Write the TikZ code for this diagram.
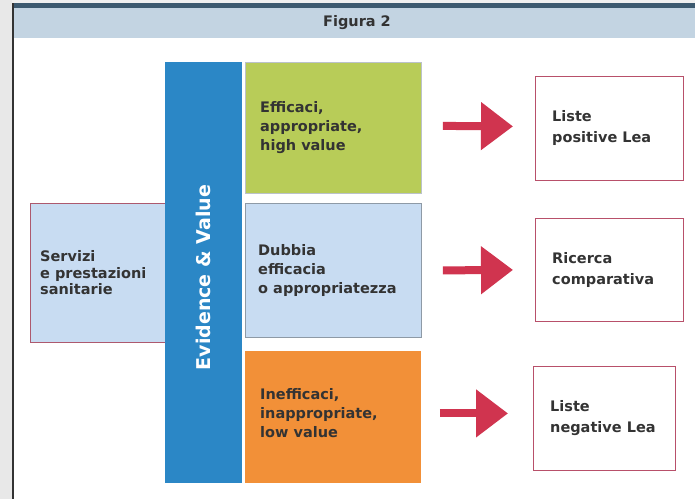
\documentclass[tikz,border=0pt]{standalone}
\usepackage{fontspec}
\setmainfont{DejaVu Sans}
\usetikzlibrary{arrows.meta}
\definecolor{barblue}{HTML}{2B87C6}
\definecolor{boxgreen}{HTML}{B8CC58}
\definecolor{boxlight}{HTML}{C8DCF2}
\definecolor{boxorange}{HTML}{F29038}
\definecolor{pinkline}{HTML}{B8506A}
\definecolor{headfill}{HTML}{C3D4E2}
\definecolor{headline}{HTML}{3D5A70}
\definecolor{arrowred}{HTML}{D0344F}
\definecolor{txt}{HTML}{333333}
\definecolor{grayline}{HTML}{8E9AA6}
\begin{document}
\begin{tikzpicture}[x=1pt,y=-1pt,
  box/.style={draw, line width=0.8pt, minimum width=#1, inner sep=0pt},
  lbl/.style={anchor=west, align=left, font=\bfseries\fontsize{14.5}{19}\selectfont, text=txt, inner sep=0pt},
  rlbl/.style={anchor=west, align=left, font=\bfseries\fontsize{14.5}{21}\selectfont, text=txt, inner sep=0pt},
  fat/.style={arrowred, line width=8pt, -{Triangle[length=32pt,width=46pt]}}
]
\useasboundingbox (0,0) rectangle (695,499);
% outer frame
\fill[gray!18] (0,0) rectangle (12,499);
\fill[gray!12] (12,0) rectangle (695,4);
\fill[white] (13,8) rectangle (695,499);
\fill[headfill] (13,8) rectangle (695,38);
\fill[headline] (12,3) rectangle (695,8);
\draw[line width=2pt, txt] (13,3) -- (13,499);
\node[font=\bfseries\fontsize{14.5}{16}\selectfont, text=txt] (title) at (357,23) {Figura 2};

% left box
\node[box=137pt, minimum height=139pt, draw=pinkline!80!gray, fill=boxlight, anchor=north west] (serv) at (30,203) {};
\node[lbl, font=\bfseries\fontsize{14.5}{16.5}\selectfont] (servt) at ([xshift=10pt]serv.west) {Servizi\\e prestazioni\\sanitarie};

% blue bar
\node[fill=barblue, minimum width=77pt, minimum height=421pt, inner sep=0pt, anchor=north west] (bar) at (165,62) {};
\node[rotate=90, font=\bfseries\fontsize{19}{21}\selectfont, text=white] (bart) at ([yshift=-5pt]bar.center) {Evidence \& Value};

% middle column
\node[box=176pt, minimum height=131pt, draw=grayline!60, fill=boxgreen, anchor=north west] (green) at (245,62) {};
\node[lbl] (greent) at ([xshift=15pt]green.west) {Efficaci,\\appropriate,\\high value};
\node[box=176pt, minimum height=134pt, draw=grayline, fill=boxlight, anchor=north west] (light) at (245,203) {};
\node[lbl] (lightt) at ([xshift=13pt]light.west) {Dubbia\\efficacia\\o appropriatezza};
\node[box=176pt, minimum height=132pt, draw=none, fill=boxorange, anchor=north west] (orange) at (245,351) {};
\node[lbl] (oranget) at ([xshift=15pt,yshift=4pt]orange.west) {Inefficaci,\\inappropriate,\\low value};

% right boxes
\node[box=148pt, minimum height=104pt, draw=pinkline, fill=white, anchor=north west] (pos) at (535,76) {};
\node[rlbl] (post) at ([xshift=17pt]pos.west) {Liste\\positive Lea};
\node[box=148pt, minimum height=103pt, draw=pinkline, fill=white, anchor=north west] (ric) at (535,218) {};
\node[rlbl] (rict) at ([xshift=17pt]ric.west) {Ricerca\\comparativa};
\node[box=142pt, minimum height=104pt, draw=pinkline, fill=white, anchor=north west] (neg) at (533,366) {};
\node[rlbl] (negt) at ([xshift=17pt]neg.west) {Liste\\negative Lea};

% arrows
\draw[fat] ([xshift=21pt,yshift=2pt]green.east) -- ([xshift=-22pt,yshift=2pt]pos.west);
\draw[fat] ([xshift=21pt]light.east) -- ([xshift=-22pt]ric.west);
\draw[fat] ([xshift=18pt,yshift=4pt]orange.east) -- ([xshift=-25pt,yshift=5pt]neg.west);
\end{tikzpicture}
\end{document}
